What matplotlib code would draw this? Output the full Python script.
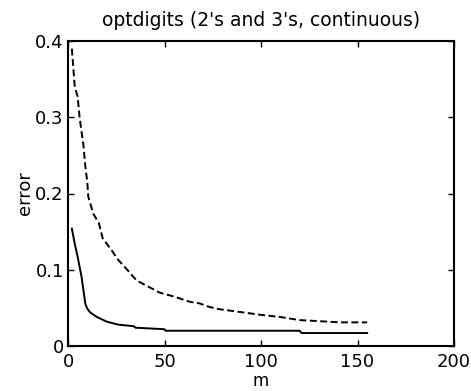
import matplotlib
matplotlib.use("Agg")
import matplotlib.pyplot as plt

plt.rcParams['font.family'] = ['DejaVu Sans']
plt.rcParams['lines.scale_dashes'] = False

# Test error versus number of components m
m_solid = [2, 3.5, 5, 7, 8, 9, 10, 11.5, 15, 20, 26, 34, 35, 50, 50.5, 120, 121, 155]
err_solid = [0.154, 0.134, 0.117, 0.091, 0.073, 0.055, 0.049, 0.044, 0.038, 0.032,
             0.028, 0.026, 0.024, 0.022, 0.020, 0.020, 0.017, 0.017]

m_dashed = [2, 3.5, 5, 6, 8, 9, 10, 10.5, 13, 16, 18, 22.5, 26, 30, 35.5, 41.5, 47.5,
            56, 63, 68, 73.5, 79, 88, 99.5, 110, 120, 141, 155]
err_dashed = [0.390, 0.340, 0.327, 0.300, 0.263, 0.235, 0.215, 0.196, 0.174, 0.161,
              0.141, 0.126, 0.113, 0.102, 0.086, 0.078, 0.070, 0.064, 0.058, 0.056,
              0.051, 0.048, 0.045, 0.041, 0.038, 0.034, 0.031, 0.031]

x_ticks = [0, 50, 100, 150, 200]
y_ticks = [0, 0.1, 0.2, 0.3, 0.4]
y_tick_labels = ['0', '0.1', '0.2', '0.3', '0.4']

fig = plt.figure(figsize=(4.71, 3.91), dpi=100)
ax = fig.add_axes([68 / 471, 1 - 346 / 391, (454 - 68) / 471, (346 - 41) / 391])

ax.plot(m_solid, err_solid, color='black', lw=1.4)
ax.plot(m_dashed, err_dashed, color='black', lw=1.4, linestyle=(0, (5, 2.5)))

ax.set_xlim(0, 200)
ax.set_ylim(0, 0.4)
ax.set_xticks(x_ticks)
ax.set_yticks(y_ticks)
ax.set_yticklabels(y_tick_labels)
ax.tick_params(direction='in', length=4, width=1, top=True, right=True,
               labelsize=13)
ax.tick_params(axis='x', pad=5)
ax.tick_params(axis='y', pad=3)
for s in ax.spines.values():
    s.set_linewidth(1.5)

ax.set_title("optdigits (2's and 3's, continuous)", fontsize=13.5, pad=11)
ax.set_xlabel('m', fontsize=12, labelpad=1)
ax.set_ylabel('error', fontsize=13, labelpad=1)

fig.savefig('out.png', dpi=100)
